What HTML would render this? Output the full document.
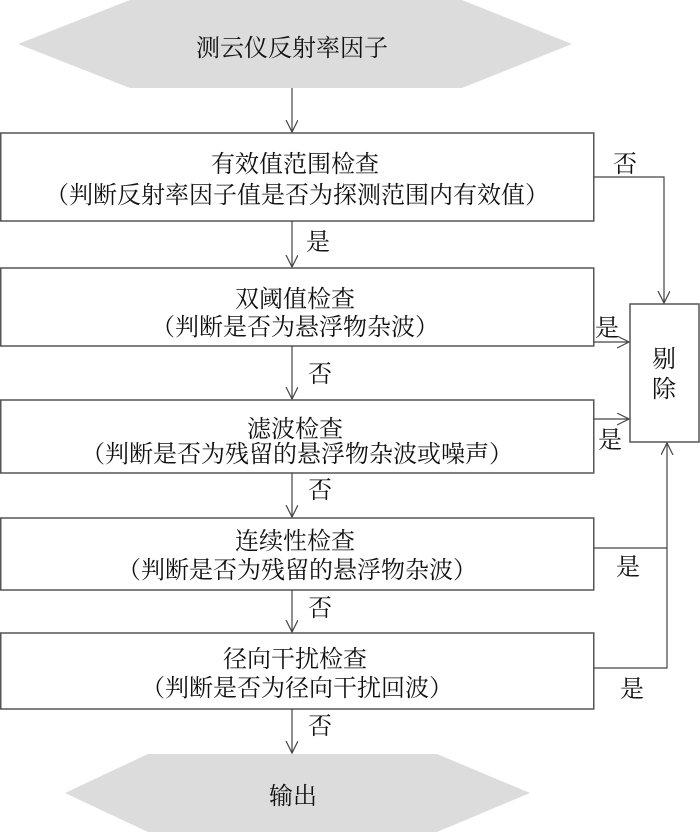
<!DOCTYPE html>
<html><head><meta charset="utf-8"><style>
html,body{margin:0;padding:0;background:#fff;}
svg{display:block;}
text{font-family:"Liberation Serif","Noto Serif CJK SC","Noto Sans CJK SC",serif;font-size:24px;fill:#111;}
</style></head><body>
<svg width="700" height="832" viewBox="0 0 700 832" xmlns="http://www.w3.org/2000/svg">
<defs><marker id="a" markerWidth="14" markerHeight="14" refX="12" refY="6" orient="auto" markerUnits="userSpaceOnUse"><path d="M0,0 L12,6 L0,12" fill="none" stroke="#444" stroke-width="1.2"/></marker></defs>
<g stroke="#555" stroke-width="1.5" fill="#fff">
<polygon points="18,44 130,0 462,0 572,44 462,88 130,88" fill="#dcdcdc" stroke="none"/>
<polygon points="65,793 148,754 437,754 530,793 437,832 148,832" fill="#dcdcdc" stroke="none"/>
<rect x="0.75" y="133" width="593" height="88"/>
<rect x="0.75" y="268" width="593" height="78"/>
<rect x="0.75" y="400" width="593" height="73"/>
<rect x="0.75" y="518" width="593" height="72"/>
<rect x="0.75" y="633" width="593" height="76"/>
<rect x="630" y="304" width="69" height="138"/>
</g>
<g stroke="#444" stroke-width="1.2" fill="none">
<line x1="292" y1="88" x2="292" y2="132" marker-end="url(#a)"/>
<line x1="292" y1="221" x2="292" y2="267" marker-end="url(#a)"/>
<line x1="292" y1="346" x2="292" y2="399" marker-end="url(#a)"/>
<line x1="292" y1="473" x2="292" y2="517" marker-end="url(#a)"/>
<line x1="292" y1="590" x2="292" y2="632" marker-end="url(#a)"/>
<line x1="292" y1="709" x2="292" y2="753" marker-end="url(#a)"/>
<polyline points="594,177 664,177 664,303" marker-end="url(#a)"/>
<line x1="594" y1="342" x2="629" y2="342" marker-end="url(#a)"/>
<line x1="594" y1="419" x2="629" y2="419" marker-end="url(#a)"/>
<polyline points="594,668 667,668 667,443" marker-end="url(#a)"/>
<line x1="594" y1="548" x2="667" y2="548"/>
</g>
<g text-anchor="middle">
<text x="292" y="56">测云仪反射率因子</text>
<text x="295" y="172">有效值范围检查</text>
<text x="297" y="203">（判断反射率因子值是否为探测范围内有效值）</text>
<text x="295" y="307">双阈值检查</text>
<text x="295" y="335">（判断是否为悬浮物杂波）</text>
<text x="295" y="437">滤波检查</text>
<text x="297" y="462">（判断是否为残留的悬浮物杂波或噪声）</text>
<text x="295" y="549">连续性检查</text>
<text x="297" y="578">（判断是否为残留的悬浮物杂波）</text>
<text x="295" y="667">径向干扰检查</text>
<text x="297" y="696">（判断是否为径向干扰回波）</text>
<text x="293" y="804">输出</text>
<text x="664" y="367">剔</text>
<text x="664" y="397">除</text>
<text x="625" y="172">否</text>
<text x="318" y="250">是</text>
<text x="320" y="382">否</text>
<text x="320" y="498">否</text>
<text x="320" y="616">否</text>
<text x="320" y="734">否</text>
<text x="607" y="336">是</text>
<text x="610" y="448">是</text>
<text x="628" y="575">是</text>
<text x="632" y="697">是</text>
</g>
</svg>
</body></html>
